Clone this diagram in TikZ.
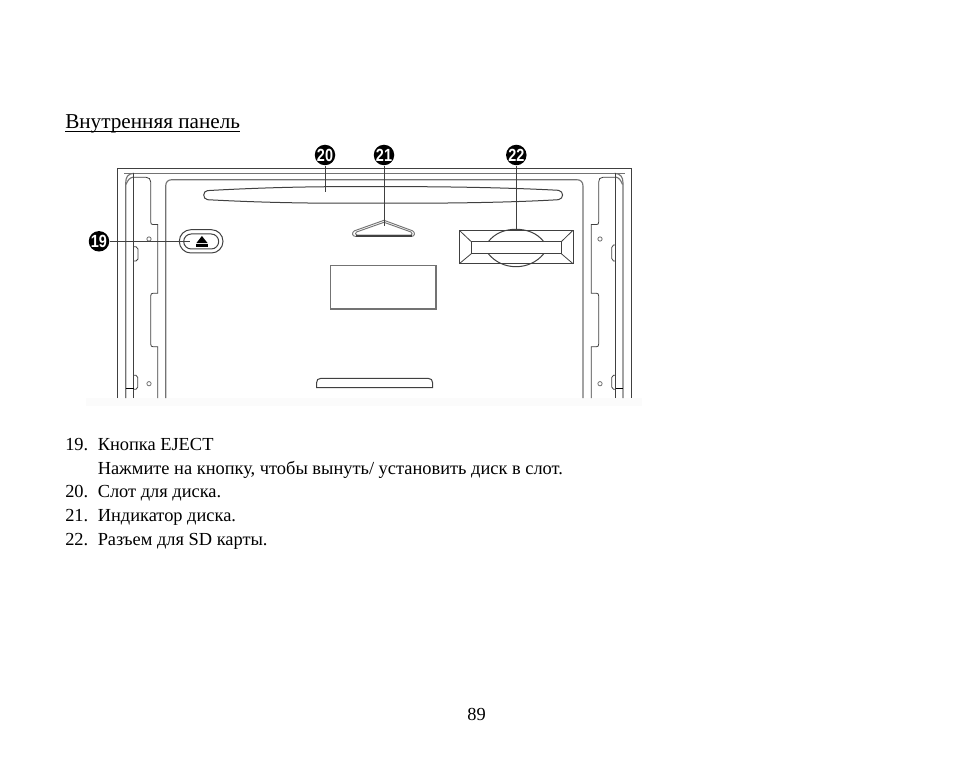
\documentclass[tikz,border=0pt]{standalone}
\usepackage{fontspec}
\setmainfont{Liberation Serif}
\newfontfamily\calloutfont{Liberation Sans}
\definecolor{ink}{gray}{0.25}
\definecolor{softink}{gray}{0.45}
\newcommand{\calloutnum}[1]{\scalebox{0.82}[1]{#1}}
\tikzset{
  outline/.style={draw=ink,line width=0.75pt},
  softline/.style={draw=softink,line width=0.85pt},
  thinline/.style={draw=ink,line width=0.6pt},
  leader/.style={draw=ink,line width=0.55pt},
  callout/.style={circle,fill=black,text=white,minimum size=20.5pt*0.75,inner sep=0pt,font=\calloutfont\bfseries\fontsize{13.2pt}{13.2pt}\selectfont},
  bodytext/.style={anchor=base west,inner sep=0pt,font=\fontsize{13.8pt}{13.8pt}\selectfont},
  holemark/.style={circle,draw=softink,line width=0.6pt,minimum size=3.2pt,inner sep=0pt}
}
\begin{document}
\begin{tikzpicture}[x=0.75pt,y=-0.75pt]
\useasboundingbox (0,0) rectangle (954,781);
\fill[white] (0,0) rectangle (954,781);
\fill[black!1.5] (86,398) rectangle (642,406);
% heading
\node[anchor=base west,inner sep=0pt,font=\fontsize{15.9pt}{15.9pt}\selectfont] (head) at (65,128.5) {Внутренняя панель};
\draw[black,line width=0.8pt] (head.south west |- 0,131.5) -- (head.south east |- 0,131.5);
% outer frame
\draw[outline] (117.3,398) -- (117.3,168.7) -- (631.3,168.7) -- (631.3,398);
\draw[softline] (124,173.3) -- (625,173.3);
% inner panel
\draw[softline] (165.7,398) -- (165.7,186) .. controls (165.7,182) and (168,179.7) .. (172,179.7) -- (576.7,179.7) .. controls (580.7,179.7) and (583,182) .. (583,186) -- (583,398);
% left rails
\draw[softline] (125.7,398) -- (125.7,183) (125.7,183) .. controls (125.7,177) and (128,173.5) .. (134,173.3);
\draw[softline] (126,184.5) .. controls (128,180) and (129,178) .. (133.7,177);
\draw[thinline] (133.7,398) -- (133.7,173);
\draw[thinline] (133.7,177.3) -- (146,177.3) .. controls (149,177.3) and (150.7,179) .. (150.7,182) -- (150.7,222) .. controls (150.7,224) and (151.5,224.5) .. (153,224.5) -- (157.7,224.5) -- (157.7,293.3) -- (153,293.3) .. controls (151.5,293.3) and (150.7,294) .. (150.7,296) -- (150.7,344) .. controls (150.7,346) and (151.5,346.7) .. (153,346.7) -- (157.7,346.7) -- (157.7,398);
\draw[thinline] (133.7,246.7) -- (136,246.7) -- (138,249) -- (138,259) -- (136,261) -- (133.7,261);
\draw[thinline] (133.7,375.3) -- (136,375.3) -- (137.8,377.5) -- (137.8,387) -- (136,389.3) -- (133.7,389.3);
\draw[black,line width=0.8pt] (125.7,388.3) -- (133.7,388.3);
\node[holemark] (holeLT) at (149,239) {};
\node[holemark] (holeLB) at (149,383.7) {};
% right rails
\draw[softline] (623,398) -- (623,183) (623,183) .. controls (623,177) and (620.5,173.5) .. (614.5,173.3);
\draw[softline] (622.5,184.5) .. controls (620.5,180) and (619.5,178) .. (615.7,177);
\draw[thinline] (615.7,398) -- (615.7,173);
\draw[thinline] (615.7,177.3) -- (603,177.3) .. controls (600,177.3) and (598.7,179) .. (598.7,182) -- (598.7,222) .. controls (598.7,224) and (598,224.5) .. (596.5,224.5) -- (591.3,224.5) -- (591.3,293.3) -- (596.5,293.3) .. controls (598,293.3) and (598.7,294) .. (598.7,296) -- (598.7,344) .. controls (598.7,346) and (598,346.7) .. (596.5,346.7) -- (591.3,346.7) -- (591.3,398);
\draw[thinline] (615.7,245) -- (613.5,245) -- (611.7,247.5) -- (611.7,258.5) -- (613.5,261) -- (615.7,261);
\draw[thinline] (615.7,375.3) -- (613.5,375.3) -- (611.7,377.5) -- (611.7,387) -- (613.5,389.3) -- (615.7,389.3);
\draw[black,line width=0.8pt] (615.7,388.3) -- (623,388.3);
\node[holemark] (holeRT) at (600,239) {};
\node[holemark] (holeRB) at (600,383.7) {};
% disc slot
\draw[outline] (207.5,190.6) .. controls (250,188.2) and (290,187) .. (330,186.7) -- (420,186.7) .. controls (470,187) and (520,188.2) .. (558.3,190.3) .. controls (564,191) and (564,199) .. (558.3,199.7) .. controls (520,202) and (470,203) .. (420,203.2) -- (330,203.2) .. controls (290,203) and (250,202) .. (207.5,199.7) .. controls (202.5,199) and (202.5,191) .. (207.5,190.6) -- cycle;
\coordinate (slotpt) at (325,192.3);
% eject button
\draw[outline,rounded corners=11.6pt*0.75] (179.3,229.7) rectangle (223,253);
\draw[outline,rounded corners=7.5pt*0.75] (183.7,234) rectangle (218.7,249);
\fill[black] (196.3,243.2) -- (201.9,236) -- (207.7,243.2) -- cycle;
\fill[black] (196.3,244.5) rectangle (207.7,246.7);
\coordinate (ejectpt) at (190,241.3);
% disc indicator
\draw[softink,line width=0.7pt] (384,220.3) -- (412.5,230.8) .. controls (415.5,232.5) and (415,236.4) .. (411.5,236.4) -- (355.5,236.4) .. controls (352,236.4) and (351.5,232.5) .. (354.5,230.8) -- cycle;
\draw[softink,line width=0.7pt] (384,222.3) -- (411,232) .. controls (412.5,233) and (412.5,234.8) .. (411,235) -- (357,235) .. controls (355,234.8) and (355,233) .. (356.5,232) -- cycle;
\draw[ink,line width=1.1pt] (356,236.2) -- (412,236.2);
\coordinate (indpt) at (384,226);
% SD slot
\draw[outline] (459.3,230.3) rectangle (573,263.7);
\draw[outline,line width=0.95pt] (471.3,241.7) rectangle (561.3,253.7);
\draw[thinline] (459.3,230.3) -- (471.3,241.7) (573,230.3) -- (561.3,241.7) (459.3,263.7) -- (471.3,253.7) (573,263.7) -- (561.3,253.7);
\draw[outline] (488.3,241.7) .. controls (495,233) and (505,229.3) .. (516,229.3) .. controls (527,229.3) and (537,233) .. (543.8,241.7);
\draw[outline] (488.3,253.7) .. controls (495,262) and (505,266.7) .. (516,266.7) .. controls (527,266.7) and (537,262) .. (543.8,253.7);
\coordinate (sdpt) at (516.3,229.3);
% display window and bottom recess
\draw[softline] (330.3,265.3) rectangle (436,309);
\draw[outline] (316.5,387.7) -- (316.5,383) .. controls (316.5,380) and (318,378.3) .. (321,378.3) -- (428,378.3) .. controls (431,378.3) and (432.7,380) .. (432.7,383) -- (432.7,387.7) -- cycle;
% callouts
\node[callout] (c19) at (99,241.3) {\calloutnum{19}};
\node[callout] (c20) at (325,155) {\calloutnum{20}};
\node[callout] (c21) at (384,155) {\calloutnum{21}};
\node[callout] (c22) at (516.3,155) {\calloutnum{22}};
\draw[leader] (c19) -- (ejectpt);
\draw[leader] (c20) -- (slotpt);
\draw[leader] (c21) -- (indpt);
\draw[leader] (c22) -- (sdpt);
% text
\node[bodytext] (n19) at (65,450.3) {19.};
\node[bodytext] (t19) at (97.5,450.3) {Кнопка EJECT};
\node[bodytext] (t19b) at (97.5,474.3) {Нажмите на кнопку, чтобы вынуть/ установить диск в слот.};
\node[bodytext] (n20) at (65,497.8) {20.};
\node[bodytext] (t20) at (97.5,497.8) {Слот для диска.};
\node[bodytext] (n21) at (65,521.8) {21.};
\node[bodytext] (t21) at (97.5,521.8) {Индикатор диска.};
\node[bodytext] (n22) at (65,545.3) {22.};
\node[bodytext] (t22) at (97.5,545.3) {Разъем для SD карты.};
\node[anchor=base,inner sep=0pt,font=\fontsize{13.8pt}{13.8pt}\selectfont] (page) at (476.5,720) {89};
\end{tikzpicture}
\end{document}
